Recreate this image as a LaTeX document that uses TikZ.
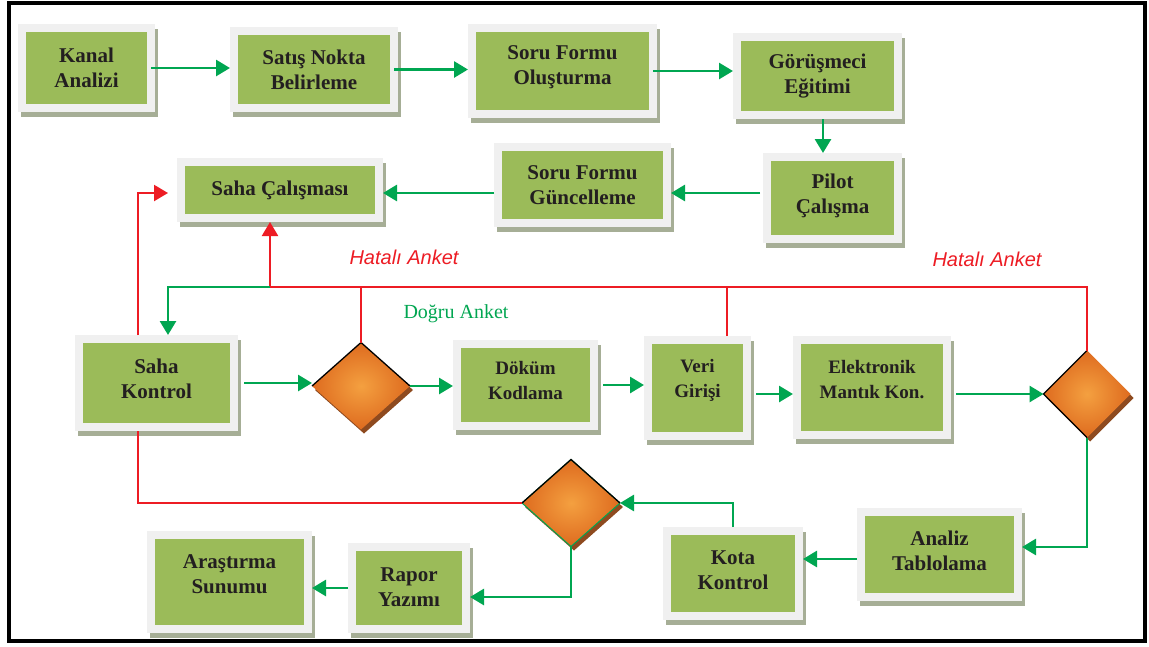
\documentclass[tikz,border=0pt]{standalone}
\usepackage{fontspec}
\setmainfont{Liberation Serif}
\newfontfamily\arialf{Liberation Sans}
\usetikzlibrary{arrows.meta,shapes.geometric,calc}
\definecolor{framec}{HTML}{F0F0F0}
\definecolor{shadowc}{HTML}{A6AE96}
\definecolor{boxgreen}{HTML}{9BBB59}
\definecolor{txt}{HTML}{231F20}
\definecolor{agreen}{HTML}{00A651}
\definecolor{ared}{HTML}{ED1C24}
\definecolor{orlight}{HTML}{F4A040}
\definecolor{ordark}{HTML}{DE6B1F}
\definecolor{orshadow}{HTML}{8E4A1F}
\tikzset{
  boxframe/.style={fill=framec, inner sep=0pt, outer sep=0pt},
  inbox/.style={fill=boxgreen, inner sep=0pt, outer sep=0pt},
  boxtext/.style={align=center, text=txt, inner sep=0pt},
  dia/.style={diamond, inner sep=0pt, outer sep=0pt, inner color=orlight, outer color=ordark},
  diashadow/.style={diamond, inner sep=0pt, outer sep=0pt, fill=orshadow},
  ga/.style={draw=agreen, line width=2.8pt, -{Triangle[length=14pt,width=16pt]}},
  gl/.style={draw=agreen, line width=2.8pt},
  ra/.style={draw=ared, line width=2.2pt, -{Triangle[length=14pt,width=16pt]}},
  rl/.style={draw=ared, line width=2.2pt},
  lab/.style={inner sep=0pt, font=\fontsize{20}{24}\selectfont}
}
\newcommand\procbox[8]{%
  \fill[shadowc] (#2+3,#3+5) rectangle (#4+3,#5+5);
  \node[boxframe, minimum width={(#4-#2)*1pt}, minimum height={(#5-#3)*1pt}] (#1) at ({(#2+#4)/2},{(#3+#5)/2}) {};
  \node[inbox, minimum width={(#4-#2-16)*1pt}, minimum height={(#5-#3-16)*1pt}] (#1-in) at (#1.center) {};
  \node[boxtext, font=\bfseries\fontsize{#8}{25}\selectfont] (#1-t) at ([yshift=#7pt]#1.center) {#6};
}
\begin{document}
\begin{tikzpicture}[x=1pt,y=-1pt]
\useasboundingbox (0,0) rectangle (1149,646);
\fill[white] (0,0) rectangle (1149,646);
\draw[line width=4pt, black] (8.5,3) rectangle (1144.5,641);

% boxes
\procbox{kanal}{18}{24}{155}{112}{Kanal\\Analizi}{0}{21}
\procbox{satis}{230}{27}{398}{112}{Satış Nokta\\Belirleme}{0}{21}
\procbox{sfo}{468}{24}{657}{118}{Soru Formu\\Oluşturma}{4}{21}
\procbox{gor}{733}{33}{902}{119}{Görüşmeci\\Eğitimi}{0}{21}
\procbox{pilot}{763}{153}{902}{243}{Pilot\\Çalışma}{2}{21}
\procbox{sfg}{494}{143}{671}{227}{Soru Formu\\Güncelleme}{0}{21}
\procbox{sahac}{177}{158}{383}{222}{Saha Çalışması}{0}{21}
\procbox{sahak}{75}{335}{238}{431}{Saha\\Kontrol}{4}{21}
\procbox{dokum}{453}{340}{598}{430}{Döküm\\Kodlama}{5}{19}
\procbox{veri}{644}{336}{751}{440}{Veri\\Girişi}{8}{19}
\procbox{elek}{793}{336}{951}{439}{Elektronik\\Mantık Kon.}{8}{19}
\procbox{kota}{663}{527}{803}{620}{Kota\\Kontrol}{3}{21}
\procbox{analiz}{857}{508}{1022}{601}{Analiz\\Tablolama}{4}{21}
\procbox{arast}{147}{531}{312}{633}{Araştırma\\Sunumu}{8}{21}
\procbox{rapor}{348}{543}{470}{633}{Rapor\\Yazımı}{1}{21}

% diamonds
\node[diashadow, minimum width=98pt, minimum height=87pt] (d1s) at (364,390) {};
\node[dia, minimum width=98pt, minimum height=87pt] (d1) at (361,386) {};
\draw[black, line width=1.3pt] (d1.west) -- (d1.north) -- (d1.east);
\node[diashadow, minimum width=87pt, minimum height=87pt] (d2s) at (1090,398) {};
\node[dia, minimum width=87pt, minimum height=87pt] (d2) at (1087,394) {};
\draw[black, line width=1.3pt] (d2.south) -- (d2.west) -- (d2.north);
\node[diashadow, minimum width=98pt, minimum height=87pt] (d3s) at (574,507) {};
\node[dia, minimum width=98pt, minimum height=87pt, draw=agreen, line width=1pt] (d3) at (571,503) {};
\draw[black, line width=1.3pt] (d3.west) -- (d3.north) -- (d3.east);

% helper coordinates
\coordinate (r1) at (0,193);
\coordinate (r2) at (0,394);
\coordinate (r3) at (0,559);
\coordinate (hl) at (0,287);
\coordinate (hj) at ($(sahac.south)+(-10,0)$);
\coordinate (vt) at ($(veri.north)+(29.5,0)$);
\coordinate (kt) at ($(sahak.north)+(11.5,0)$);
\coordinate (kb) at ($(sahak.south)+(-18.5,0)$);
\coordinate (ktop) at ($(sahak.north)+(-18.5,0)$);
\coordinate (ae) at ($(analiz.east)+(0,-7.5)$);
\coordinate (re) at ($(rapor.east)+(0,9)$);
\coordinate (gs) at ($(gor.south)+(5.5,0)$);

% top row
\draw[ga, shorten <=-4pt] (kanal.east) -- (kanal.east -| satis.west);
\draw[ga, shorten <=-4pt] (satis.east) -- (satis.east -| sfo.west);
\draw[ga, shorten <=-4pt] (sfo.east) -- (sfo.east -| gor.west);
\draw[ga] (gs) -- (gs |- pilot.north);
\draw[ga, shorten <=3pt] (pilot.west |- r1) -- (sfg.east |- r1);
\draw[ga] (sfg.west |- r1) -- (sahac.east |- r1);

% red feedback
\draw[ra, shorten >=9pt] (ktop) |- (sahac.west |- r1);
\draw[rl] (d2.north) |- (hj |- hl);
\draw[ra] (hj |- hl) -- (hj);
\draw[rl] (d1.north) -- (d1.north |- hl);
\draw[rl] (vt) -- (vt |- hl);
\draw[ga] (hj |- hl) -| (kt);

% middle row
\draw[ga, shorten <=6pt] (sahak.east) -- (sahak.east -| d1.west);
\draw[ga] (d1.east) -- (d1.east -| dokum.west);
\draw[ga, shorten <=5pt] (dokum.east) -- (dokum.east -| veri.west);
\draw[ga, shorten <=5pt] (veri.east |- r2) -- (elek.west |- r2);
\draw[ga, shorten <=5pt] (elek.east |- r2) -- (r2 -| d2.west);

% bottom row
\draw[ga] (d2.south) |- (ae);
\draw[ga] (analiz.west |- r3) -- (kota.east |- r3);
\draw[ga] (kota.north) |- (d3.east);
\draw[rl] (d3.west) -| (kb);
\draw[ga] (d3.south) |- (re);
\draw[ga] (rapor.west) -- (rapor.west -| arast.east);

% labels
\node[lab, text=ared] (h1) at (404,257) {\arialf\itshape Hatalı Anket};
\node[lab, text=ared] (h2) at (987,259) {\arialf\itshape Hatalı Anket};
\node[lab, text=agreen] (dogru) at (456,314) {Doğru Anket};
\end{tikzpicture}
\end{document}
